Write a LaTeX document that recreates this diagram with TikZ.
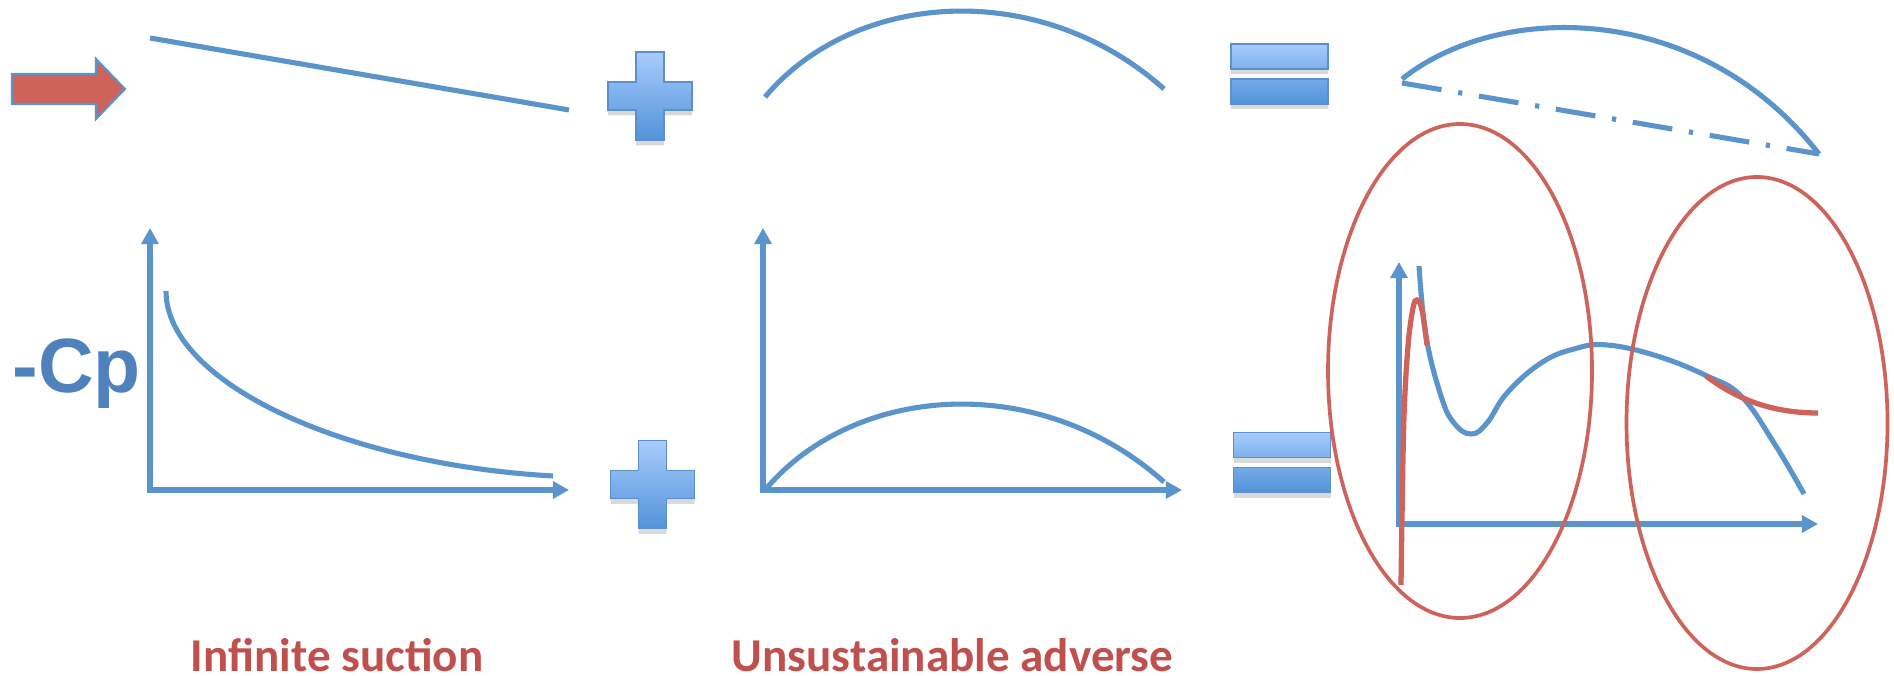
\documentclass[tikz,border=0pt]{standalone}
\usepackage{fontspec}
\setmainfont{Carlito}
\newfontfamily\cpfont{Liberation Sans}
\usepackage{tikz}
\usetikzlibrary{arrows.meta,shadows}
\definecolor{lineblue}{RGB}{91,148,203}
\definecolor{cpblue}{RGB}{79,129,189}
\definecolor{ringred}{RGB}{205,99,91}
\definecolor{labelred}{RGB}{192,80,77}
\definecolor{signtop}{RGB}{168,204,252}
\definecolor{signmid}{RGB}{125,176,235}
\definecolor{signbot}{RGB}{82,147,217}
\definecolor{signedge}{RGB}{92,143,207}

\begin{document}
\begin{tikzpicture}[>={Triangle[length=4.6pt,width=4.8pt]},
    curve/.style={lineblue, line width=1.45pt},
    axis/.style={<->, lineblue, line width=1.45pt},
    ring/.style={ringred, line width=1.05pt},
    redcurve/.style={ringred, line width=1.5pt},
    sign/.style={draw=signedge, line width=0.45pt,
        drop shadow={shadow xshift=0pt, shadow yshift=-1.5pt, opacity=0.3}},
    caption/.style={text=labelred, font=\bfseries\fontsize{13.4}{16}\selectfont,
        inner sep=0pt, anchor=base}]
    \useasboundingbox (0,0) rectangle (18.94,6.76);
    \clip (0,0) rectangle (18.94,6.76);

    % flow direction
    \filldraw[fill=ringred, draw=lineblue, line width=0.6pt] (0.12,6.02) -- (0.96,6.02) -- (0.96,6.17)
        -- (1.25,5.87) -- (0.96,5.57) -- (0.96,5.72) -- (0.12,5.72) -- cycle;

    % flat plate and camber line
    \draw[curve] (1.50,6.38) -- (5.69,5.66);
    \foreach \dy in {0,-3.93}
        \draw[curve, yshift=\dy cm] (7.65,5.79) .. controls (8.55,6.86) and (10.4,6.98) .. (11.64,5.87);

    % plus and equals signs
    \foreach \x/\y in {6.50/5.80, 6.525/1.915}
        \path[sign, top color=signtop, bottom color=signbot, shift={(\x,\y)}]
            (-0.14,0.44) -- (0.14,0.44) -- (0.14,0.14) -- (0.42,0.14) -- (0.42,-0.14) -- (0.14,-0.14)
            -- (0.14,-0.44) -- (-0.14,-0.44) -- (-0.14,-0.14) -- (-0.42,-0.14) -- (-0.42,0.14) -- (-0.14,0.14) -- cycle;
    \foreach \x/\y in {12.795/6.02, 12.82/2.135} {
        \path[sign, top color=signtop, bottom color=signmid, shift={(\x,\y)}] (-0.485,0.05) rectangle (0.485,0.30);
        \path[sign, top color=signmid!80!signbot, bottom color=signbot, shift={(\x,\y)}] (-0.485,-0.30) rectangle (0.485,-0.05);
    }

    % -Cp axes
    \foreach \x/\y in {1.50/1.86, 7.63/1.86, 13.99/1.52}
        \draw[axis] (\x,{\y+2.62}) |- ({\x+4.19},\y);
    \node[anchor=base west, inner sep=0pt, text=cpblue, font=\cpfont\bfseries\fontsize{21.9}{24}\selectfont]
        (cp) at (0.12,2.83) {-Cp};

    \draw[curve] (1.66,3.85) .. controls (1.66,2.95) and (3.4,2.12) .. (5.53,2.00);

    % cambered plate at angle
    \draw[curve] (14.02,5.97) .. controls (15.0,6.75) and (17.0,6.75) .. (18.19,5.22);
    \draw[curve, dash pattern=on 11.4pt off 4.8pt on 1.2pt off 4.8pt] (14.02,5.93) -- (18.19,5.22);

    \draw[curve] plot[smooth, tension=0.7] coordinates {(14.19,4.10) (14.26,3.40) (14.41,2.80) (14.54,2.53)
        (14.71,2.42) (14.87,2.53) (15.07,2.83) (15.41,3.13) (15.74,3.27) (16.07,3.31) (16.57,3.20)
        (17.07,3.00) (17.41,2.80) (17.74,2.33) (18.04,1.82)};
    \draw[redcurve] plot[smooth, tension=0.6] coordinates {(14.01,0.91) (14.02,1.60) (14.04,2.60)
        (14.08,3.30) (14.13,3.68) (14.17,3.76) (14.22,3.66) (14.27,3.31)};
    \draw[redcurve] (17.06,3.00) .. controls (17.35,2.78) and (17.7,2.63) .. (18.18,2.63);

    \draw[ring] (14.60,3.05) ellipse [x radius=1.32, y radius=2.47];
    \draw[ring] (17.57,2.53) ellipse [x radius=1.305, y radius=2.46];

    \node[caption] (suction) at (3.37,0.04) {Infinite suction};
    \node[caption] (adverse) at (9.525,0.04) {Unsustainable adverse};
\end{tikzpicture}
\end{document}
